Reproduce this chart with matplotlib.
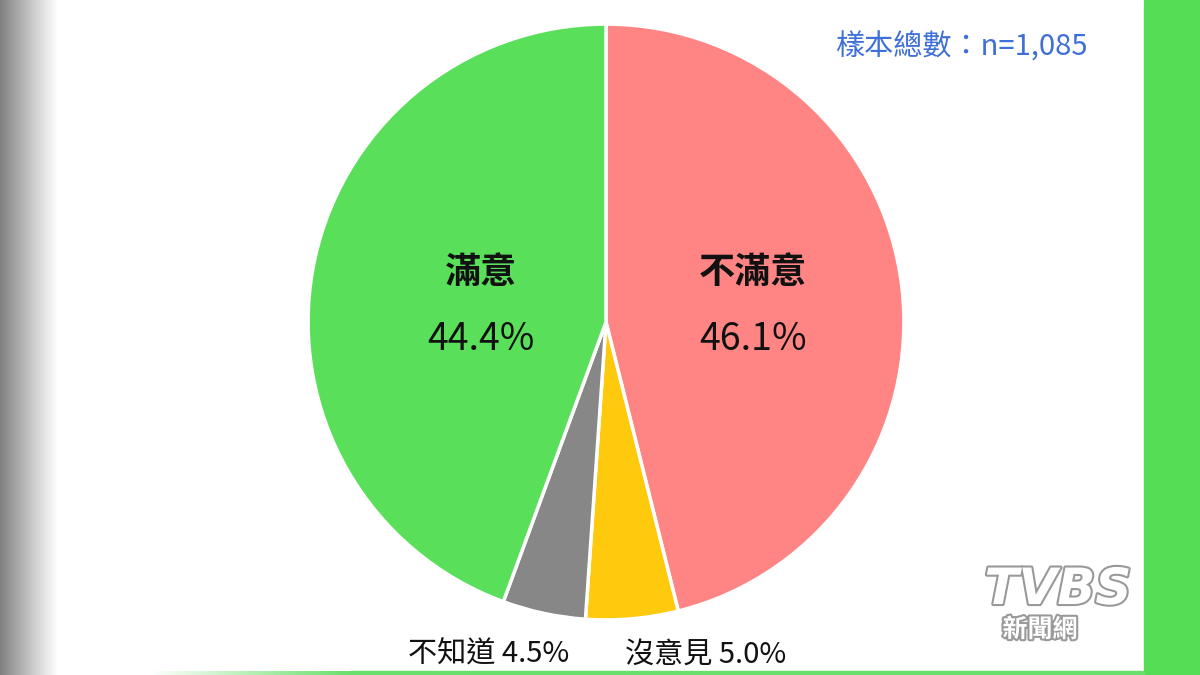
import matplotlib
matplotlib.use("Agg")
import matplotlib.pyplot as plt
import numpy as np
import matplotlib.patheffects as pe

plt.rcParams['font.family'] = ['Noto Sans CJK TC', 'DejaVu Sans']

# Data
categories = ['不滿意', '沒意見', '不知道', '滿意']
values = [46.1, 5.0, 4.5, 44.4]
colors = ['#FF8585', '#FFC90E', '#878787', '#5ADF5A']
sample_note = '樣本總數：n=1,085'

W, H = 1200, 675
fig = plt.figure(figsize=(12, 6.75), dpi=100)
bg = fig.add_axes([0, 0, 1, 1])
bg.set_xlim(0, W)
bg.set_ylim(H, 0)
bg.axis('off')

# white panel
bg.add_patch(plt.Rectangle((0, 0), W, H, color='white', zorder=0))
# left gray gradient
grad = np.linspace(0.42, 1.0, 60) ** 0.8
img = np.tile(grad, (10, 1))
bg.imshow(img, cmap='gray', vmin=0, vmax=1, extent=(0, 58, H, 0), aspect='auto', zorder=1)
# right green border
bg.add_patch(plt.Rectangle((1144, 0), W - 1144, H, color='#55DD55', zorder=1))
# bottom green line (fading in from the left)
line_grad = np.linspace(0, 1, 200)
bg.imshow(np.tile(line_grad, (2, 1)), cmap=matplotlib.colors.LinearSegmentedColormap.from_list('g', ['white', '#6BDF6B']),
          vmin=0, vmax=1, extent=(150, 350, 675, 671), aspect='auto', zorder=1)
bg.add_patch(plt.Rectangle((350, 671), 794, 4, color='#6BDF6B', zorder=1))
bg.set_xlim(0, W)
bg.set_ylim(H, 0)

# pie axes in pixel space
cx, cy, r = 606, 322, 298
pax = fig.add_axes([(cx - r - 2) / W, (H - cy - r - 2) / H, (2 * r + 4) / W, (2 * r + 4) / H])
pax.pie(values, colors=colors, startangle=90, counterclock=False,
        radius=1.0, wedgeprops=dict(edgecolor='white', linewidth=2.5))
pax.set_xlim(-1.007, 1.007)
pax.set_ylim(-1.007, 1.007)
pax.set_aspect('equal')
pax.axis('off')

# overlay for texts
ov = fig.add_axes([0, 0, 1, 1])
ov.set_xlim(0, W)
ov.set_ylim(H, 0)
ov.axis('off')
ov.patch.set_alpha(0)

ov.text(481, 273, categories[3], fontsize=26, ha='center', va='center', color='#111111', fontweight='semibold')
ov.text(481, 340, f'{values[3]:.1f}%', fontsize=27, ha='center', va='center', color='#111111', fontweight='medium')
ov.text(753, 273, categories[0], fontsize=26, ha='center', va='center', color='#111111', fontweight='semibold')
ov.text(753, 340, f'{values[0]:.1f}%', fontsize=27, ha='center', va='center', color='#111111', fontweight='medium')
ov.text(489, 655, f'{categories[2]} {values[2]:.1f}%', fontsize=21, ha='center', va='center', color='#111111', fontweight='medium')
ov.text(706, 655, f'{categories[1]} {values[1]:.1f}%', fontsize=21, ha='center', va='center', color='#111111', fontweight='medium')

ov.text(961, 48, sample_note, fontsize=21, ha='center', va='center', color='#3F6FD8', fontweight='medium')

# watermark logo
stroke = [pe.withStroke(linewidth=3, foreground='#999999')]
ov.text(1058, 590, 'TVBS', fontsize=36, ha='center', va='center', color='white',
        fontweight='bold', style='italic', family=['DejaVu Sans'], path_effects=stroke)
ov.text(1040, 630, '新聞網', fontsize=18, ha='center', va='center', color='white',
        fontweight='bold', path_effects=stroke)

fig.savefig('out.png', dpi=100)
